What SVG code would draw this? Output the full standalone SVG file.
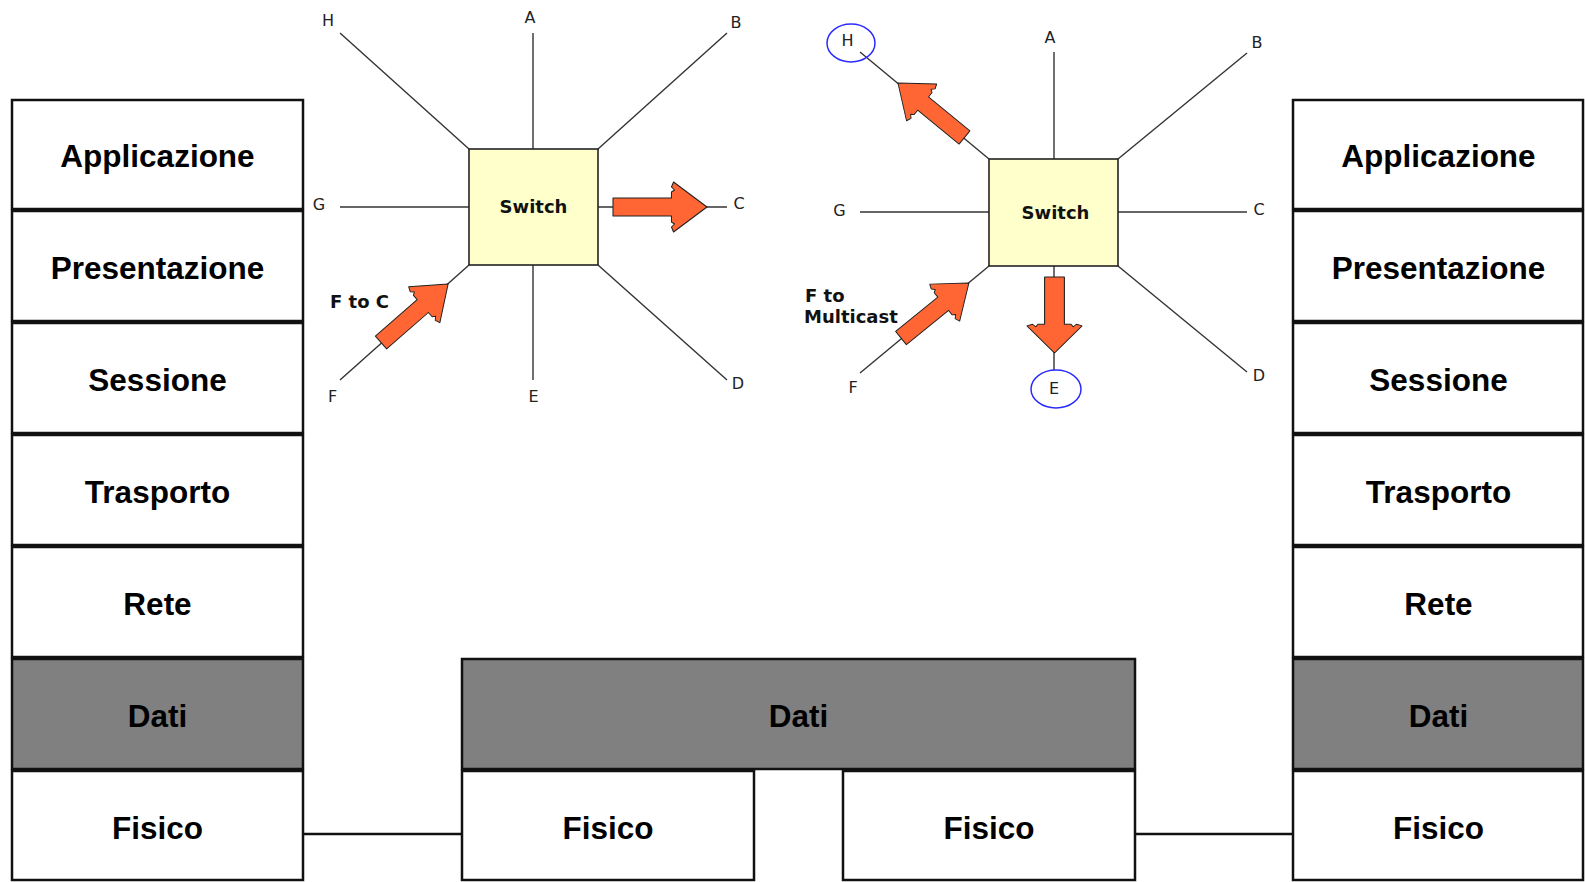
<svg xmlns="http://www.w3.org/2000/svg" xmlns:xlink="http://www.w3.org/1999/xlink" width="1585" height="882" viewBox="0 0 1585 882">
  <style>
    .layer { fill: #ffffff; stroke: #111111; stroke-width: 2.5; }
    .layer.data { fill: #808080; }
    .layer-text { font-family: "Liberation Sans", Arial, sans-serif; font-weight: bold; font-size: 31.5px; fill: #000000; text-anchor: middle; }
    .link { stroke: #111111; stroke-width: 2.5; fill: none; }
    .port { stroke: #333333; stroke-width: 1.4; fill: none; }
    .switch-box { fill: #ffffcc; stroke: #222222; stroke-width: 1.6; }
    .switch-text { font-family: "DejaVu Sans", Verdana, sans-serif; font-weight: bold; font-size: 18px; fill: #111111; text-anchor: middle; }
    .port-text { font-family: "DejaVu Sans", Verdana, sans-serif; font-size: 16px; fill: #222222; text-anchor: middle; }
    .flow { fill: #ff6633; stroke: #222222; stroke-width: 1; stroke-linejoin: round; }
    .mark { fill: none; stroke: #2b2bff; stroke-width: 1.5; }
  </style>
  <defs>
    <!-- block arrow pointing along +x, tail centre at the origin, length 90 -->
    <path id="flow-arrow" d="M0,-9 L56,-9 L56,-15 L59,-17 L56,-20 L58,-25 L90,0 L58,25 L56,20 L59,17 L56,15 L56,9 L0,9 Z"/>
  </defs>

  <rect width="1585" height="882" fill="#ffffff"/>

  <!-- physical links between the stacks -->
  <g id="connectors">
    <line class="link" x1="303" y1="834" x2="462" y2="834"/>
    <line class="link" x1="1135" y1="834" x2="1293" y2="834"/>
  </g>

  <!-- left OSI stack -->
  <g id="stack-left">
    <rect class="layer" x="12" y="100" width="291" height="109"/>
    <rect class="layer" x="12" y="211" width="291" height="110"/>
    <rect class="layer" x="12" y="323" width="291" height="110"/>
    <rect class="layer" x="12" y="435" width="291" height="110"/>
    <rect class="layer" x="12" y="547" width="291" height="110"/>
    <rect class="layer data" x="12" y="659" width="291" height="110"/>
    <rect class="layer" x="12" y="771" width="291" height="109"/>
    <text class="layer-text" x="157.5" y="167">Applicazione</text>
    <text class="layer-text" x="157.5" y="279">Presentazione</text>
    <text class="layer-text" x="157.5" y="391">Sessione</text>
    <text class="layer-text" x="157.5" y="503">Trasporto</text>
    <text class="layer-text" x="157.5" y="615">Rete</text>
    <text class="layer-text" x="157.5" y="727">Dati</text>
    <text class="layer-text" x="157.5" y="839">Fisico</text>
  </g>

  <!-- switch: shared data link layer over two physical ports -->
  <g id="stack-switch">
    <rect class="layer data" x="462" y="659" width="673" height="110"/>
    <rect class="layer" x="462" y="771" width="292" height="109"/>
    <rect class="layer" x="843" y="771" width="292" height="109"/>
    <text class="layer-text" x="798.5" y="727">Dati</text>
    <text class="layer-text" x="608" y="839">Fisico</text>
    <text class="layer-text" x="989" y="839">Fisico</text>
  </g>

  <!-- right OSI stack -->
  <g id="stack-right">
    <rect class="layer" x="1293" y="100" width="290" height="109"/>
    <rect class="layer" x="1293" y="211" width="290" height="110"/>
    <rect class="layer" x="1293" y="323" width="290" height="110"/>
    <rect class="layer" x="1293" y="435" width="290" height="110"/>
    <rect class="layer" x="1293" y="547" width="290" height="110"/>
    <rect class="layer data" x="1293" y="659" width="290" height="110"/>
    <rect class="layer" x="1293" y="771" width="290" height="109"/>
    <text class="layer-text" x="1438.5" y="167">Applicazione</text>
    <text class="layer-text" x="1438.5" y="279">Presentazione</text>
    <text class="layer-text" x="1438.5" y="391">Sessione</text>
    <text class="layer-text" x="1438.5" y="503">Trasporto</text>
    <text class="layer-text" x="1438.5" y="615">Rete</text>
    <text class="layer-text" x="1438.5" y="727">Dati</text>
    <text class="layer-text" x="1438.5" y="839">Fisico</text>
  </g>

  <!-- unicast: frame from F forwarded to C only -->
  <g id="switch-unicast">
    <line class="port" x1="340" y1="33" x2="469" y2="149"/>
    <line class="port" x1="533" y1="33" x2="533" y2="149"/>
    <line class="port" x1="727" y1="33" x2="598" y2="149"/>
    <line class="port" x1="340" y1="207" x2="469" y2="207"/>
    <line class="port" x1="598" y1="207" x2="727" y2="207"/>
    <line class="port" x1="598" y1="265" x2="727" y2="380"/>
    <line class="port" x1="533" y1="265" x2="533" y2="380"/>
    <line class="port" x1="469" y1="265" x2="340" y2="380"/>
    <rect class="switch-box" x="469" y="149" width="129" height="116"/>
    <text class="switch-text" x="533.5" y="213">Switch</text>
    <text class="port-text" x="328" y="26">H</text>
    <text class="port-text" x="530" y="23">A</text>
    <text class="port-text" x="736" y="28">B</text>
    <text class="port-text" x="319" y="210">G</text>
    <text class="port-text" x="739" y="209">C</text>
    <text class="port-text" x="738" y="389">D</text>
    <text class="port-text" x="533.5" y="402">E</text>
    <text class="port-text" x="332.5" y="402">F</text>
    <use xlink:href="#flow-arrow" class="flow" transform="translate(613,207) scale(1.044,1)"/>
    <use xlink:href="#flow-arrow" class="flow" transform="translate(381,342.5) rotate(-41.1) scale(0.99,0.95)"/>
    <text class="switch-text" x="359.5" y="308" style="text-anchor:middle">F to C</text>
  </g>

  <!-- multicast: frame from F forwarded to H and E -->
  <g id="switch-multicast">
    <line class="port" x1="860" y1="52" x2="989" y2="159"/>
    <line class="port" x1="1054" y1="52" x2="1054" y2="159"/>
    <line class="port" x1="1247" y1="53" x2="1118" y2="159"/>
    <line class="port" x1="860" y1="212" x2="989" y2="212"/>
    <line class="port" x1="1118" y1="212" x2="1247" y2="212"/>
    <line class="port" x1="1118" y1="266" x2="1247" y2="372"/>
    <line class="port" x1="1054" y1="266" x2="1054" y2="370"/>
    <line class="port" x1="989" y1="266" x2="860" y2="373"/>
    <rect class="switch-box" x="989" y="159" width="129" height="107"/>
    <text class="switch-text" x="1055.5" y="219">Switch</text>
    <ellipse class="mark" cx="851" cy="43" rx="24" ry="19"/>
    <ellipse class="mark" cx="1056" cy="389" rx="25" ry="19"/>
    <text class="port-text" x="847.5" y="46">H</text>
    <text class="port-text" x="1050" y="43">A</text>
    <text class="port-text" x="1257" y="48">B</text>
    <text class="port-text" x="839.5" y="216">G</text>
    <text class="port-text" x="1259" y="215">C</text>
    <text class="port-text" x="1259" y="381">D</text>
    <text class="port-text" x="1054" y="394">E</text>
    <text class="port-text" x="853" y="393">F</text>
    <use xlink:href="#flow-arrow" class="flow" transform="translate(964.5,137.5) rotate(-140.7) scale(0.956,0.95)"/>
    <use xlink:href="#flow-arrow" class="flow" transform="translate(901,338) rotate(-39) scale(0.97,0.95)"/>
    <use xlink:href="#flow-arrow" class="flow" transform="translate(1054.5,277) rotate(90) scale(0.844,1.1)"/>
    <text class="switch-text" x="805" y="302" style="text-anchor:start">F to</text>
    <text class="switch-text" x="804" y="323" style="text-anchor:start">Multicast</text>
  </g>
</svg>
